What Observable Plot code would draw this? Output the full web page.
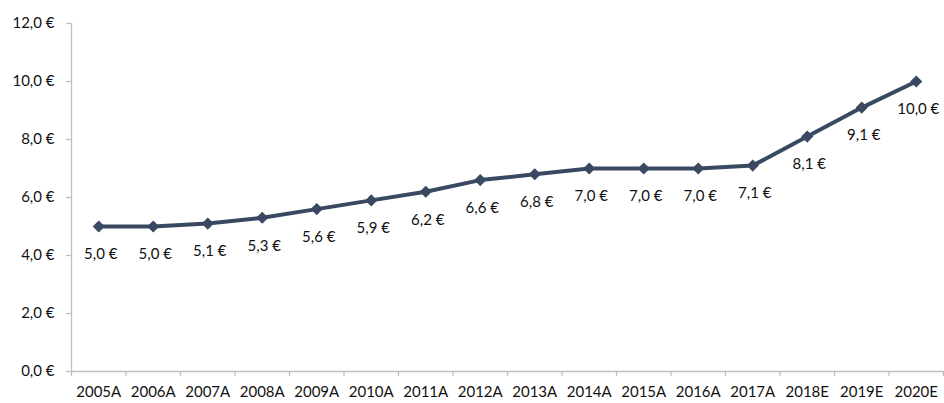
<!DOCTYPE html>
<html>
<head>
<meta charset="utf-8">
<script src="https://cdn.jsdelivr.net/npm/d3@7"></script>
<script src="https://cdn.jsdelivr.net/npm/@observablehq/plot@0.6"></script>
<style>
  html, body { margin: 0; padding: 0; background: #fff; }
  #chart svg { display: block; }
</style>
</head>
<body>
<div id="chart"></div>
<script>
const categories = ["2005A","2006A","2007A","2008A","2009A","2010A","2011A","2012A","2013A","2014A","2015A","2016A","2017A","2018E","2019E","2020E"];
const values = [5.0, 5.0, 5.1, 5.3, 5.6, 5.9, 6.2, 6.6, 6.8, 7.0, 7.0, 7.0, 7.1, 8.1, 9.1, 10.0];
const yTicks = [0, 2, 4, 6, 8, 10, 12];

const data = categories.map((c, i) => ({cat: c, idx: i + 0.5, value: values[i]}));
const fmt = v => v.toFixed(1).replace(".", ",") + " €";
const lineColor = "#3a4962";
const axisColor = "#bfbfbf";
const font = "Lato, 'Open Sans', sans-serif";

const chart = Plot.plot({
  width: 944,
  height: 403,
  marginLeft: 71,
  marginRight: 1,
  marginTop: 23,
  marginBottom: 32,
  style: {fontFamily: font, fontSize: "15px", color: "#111", background: "#fff"},
  x: {type: "linear", domain: [0, categories.length]},
  y: {domain: [0, 12]},
  marks: [
    Plot.ruleX([0], {stroke: axisColor, strokeWidth: 1.3}),
    Plot.ruleY([0], {stroke: axisColor, strokeWidth: 1.3}),
    Plot.axisY({ticks: yTicks, tickFormat: fmt, tickSize: 5, tickPadding: 12, stroke: axisColor, strokeWidth: 1.3, strokeOpacity: 1, label: null, fontSize: 15, fill: "#111"}),
    Plot.axisX({ticks: d3.range(0, categories.length + 1), tickFormat: () => "", tickSize: 5, stroke: axisColor, strokeWidth: 1.3, strokeOpacity: 1, label: null}),
    Plot.axisX({ticks: data.map(d => d.idx), tickFormat: (t) => categories[Math.floor(t)], tickSize: 0, tickPadding: 15, label: null, fontSize: 15, fill: "#111"}),
    Plot.line(data, {x: "idx", y: "value", stroke: lineColor, strokeWidth: 4}),
    Plot.dot(data, {x: "idx", y: "value", symbol: "diamond2", fill: lineColor, stroke: lineColor, r: 4.5}),
    Plot.text(data, {x: "idx", y: "value", text: d => fmt(d.value), dy: 28, dx: 2, fill: "#111", fontSize: 15})
  ]
});
document.getElementById("chart").append(chart);
</script>
</body>
</html>
